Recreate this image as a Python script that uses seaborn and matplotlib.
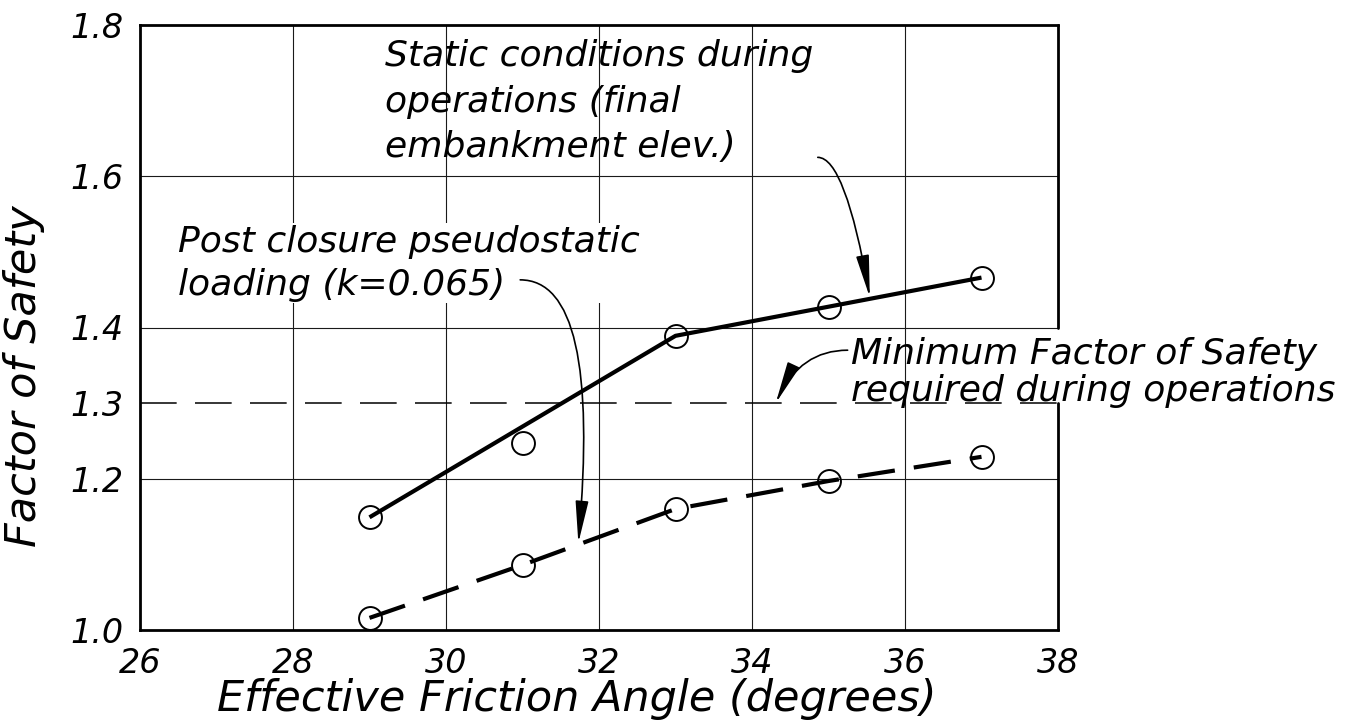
import numpy as np
import pandas as pd
import matplotlib
matplotlib.use("Agg")
import matplotlib.pyplot as plt
import seaborn as sns

# ---- data ----
angles = [29, 31, 33, 35, 37]
fs_static = [1.149, 1.247, 1.389, 1.427, 1.466]
fs_pseudo = [1.016, 1.086, 1.160, 1.197, 1.229]
static_trend_x = [29, 33, 37]
static_trend_y = [1.149, 1.389, 1.466]
fs_min = 1.3

x_ticks = [26, 28, 30, 32, 34, 36, 38]
y_ticks = [1.0, 1.2, 1.3, 1.4, 1.6, 1.8]
y_grid = [1.2, 1.4, 1.6]
x_grid = [28, 30, 32, 34, 36]

txt_static = "Static conditions during\noperations (final\nembankment elev.)"
txt_pseudo = "Post closure pseudostatic\nloading (k=0.065)"
txt_min = "Minimum Factor of Safety\nrequired during operations"
xlabel = "Effective Friction Angle (degrees)"
ylabel = "Factor of Safety"

sns.set_style("white")
plt.rcParams["font.family"] = ["DejaVu Sans"]
plt.rcParams["font.style"] = "oblique"
for k in ["text.color", "axes.labelcolor", "xtick.color", "ytick.color", "axes.edgecolor"]:
    plt.rcParams[k] = "black"

fig = plt.figure(figsize=(13.62, 7.22), dpi=100)
ax = fig.add_axes([140 / 1362, 1 - 630 / 722, 918 / 1362, 605 / 722])

xlo, xhi = x_ticks[0], x_ticks[-1]
ylo, yhi = y_ticks[0], y_ticks[-1]
ax.set_xlim(xlo, xhi)
ax.set_ylim(ylo, yhi)

# grid
for g in y_grid:
    ax.axhline(g, color="#1a1a1a", lw=0.8, zorder=1)
for g in x_grid:
    ax.axvline(g, color="#1a1a1a", lw=0.8, zorder=1)

# min FS dashed line
ax.axhline(fs_min, color="black", lw=1.1, dashes=(24, 12), zorder=1.5)

df_s = pd.DataFrame({"x": static_trend_x, "y": static_trend_y})
df_p = pd.DataFrame({"x": angles, "y": fs_pseudo})
sns.lineplot(data=df_s, x="x", y="y", color="black", lw=3.0, ax=ax, zorder=3,
             solid_capstyle="butt")
sns.lineplot(data=df_p, x="x", y="y", color="black", lw=3.0, ax=ax, zorder=3)
ax.lines[-1].set_dashes((9, 4.6))
ax.lines[-1].set_dash_capstyle("butt")

for ys in (fs_static, fs_pseudo):
    dfm = pd.DataFrame({"x": angles, "y": ys})
    sns.lineplot(data=dfm, x="x", y="y", ax=ax, linestyle="none", marker="o",
                 markersize=16.5, markerfacecolor="none", markeredgecolor="black",
                 markeredgewidth=1.4, color="black", zorder=4)

# spines
for s in ["left", "bottom", "top"]:
    ax.spines[s].set_linewidth(2.0)
    ax.spines[s].set_color("black")
ax.spines["right"].set_visible(False)
yr = yhi - ylo
ax.axvline(xhi, ymin=0, ymax=(fs_min - ylo) / yr, color="black", lw=2.0, clip_on=False)
ax.axvline(xhi, ymin=(y_grid[1] - ylo) / yr, ymax=1, color="black", lw=2.0, clip_on=False)

ax.set_xticks(x_ticks)
ax.set_yticks(y_ticks)
ax.set_xticklabels([str(v) for v in x_ticks], fontsize=24, style="oblique")
ax.set_yticklabels([f"{v:.1f}" for v in y_ticks], fontsize=24, style="oblique")
ax.tick_params(axis="both", length=0, pad=12, colors="black")

ax.set_xlabel(xlabel, fontsize=31, style="oblique")
ax.set_ylabel(ylabel, fontsize=31, style="oblique")
ax.xaxis.set_label_coords(0.476, -0.08)
ax.yaxis.set_label_coords(-0.104, 0.42)

# annotations
tfs = 26
ax.text(29.2, 1.781, txt_static, fontsize=tfs, style="oblique", va="top", ha="left",
        linespacing=1.42, zorder=5)
ax.text(26.5, 1.536, txt_pseudo, fontsize=tfs, style="oblique", va="top", ha="left",
        linespacing=1.33, zorder=5,
        bbox=dict(facecolor="white", edgecolor="none", pad=1))
ax.text(35.3, 1.388, txt_min, fontsize=tfs, style="oblique", va="top", ha="left",
        linespacing=1.12, zorder=5, clip_on=False)

ap = dict(arrowstyle="-|>,head_length=1.3,head_width=0.2", mutation_scale=20,
          lw=1.2, color="black", shrinkA=0, shrinkB=0)
ax.annotate("", xy=(35.54, 1.440), xytext=(34.86, 1.625),
            arrowprops=dict(ap, connectionstyle="angle3,angleA=0,angleB=100"), zorder=6)
ax.annotate("", xy=(31.73, 1.115), xytext=(30.97, 1.463),
            arrowprops=dict(ap, connectionstyle="angle3,angleA=0,angleB=85"), zorder=6)
ax.annotate("", xy=(34.31, 1.30), xytext=(35.25, 1.370),
            arrowprops=dict(ap, connectionstyle="angle3,angleA=0,angleB=65"), zorder=6)

fig.savefig("out.png", dpi=100, facecolor="white")
